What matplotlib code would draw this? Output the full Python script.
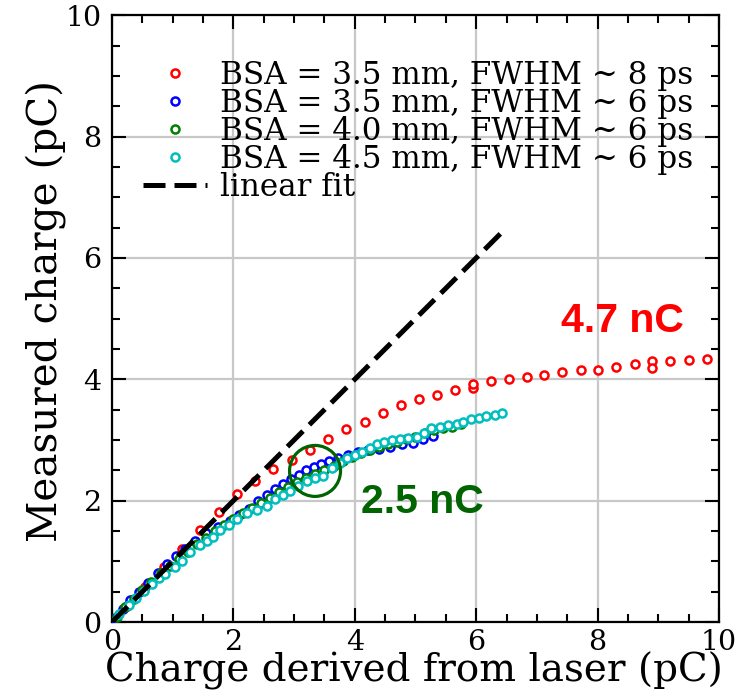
import matplotlib
matplotlib.use("Agg")
import matplotlib.pyplot as plt
from matplotlib.patches import Circle

plt.rcParams["font.family"] = ["DejaVu Serif"]

# Laser-derived charge (pC) vs measured charge (pC) for each setting
x_bsa35_8ps = [0.25, 0.55, 0.85, 1.15, 1.45, 1.76, 2.06, 2.36, 2.66, 2.96, 3.26, 3.56,
               3.86, 4.16, 4.46, 4.76, 5.06, 5.35, 5.65, 5.94, 5.94, 6.24, 6.54, 6.83,
               7.12, 7.42, 7.72, 8.01, 8.31, 8.61, 8.90, 8.90, 9.20, 9.50, 9.80]
y_bsa35_8ps = [0.27, 0.58, 0.90, 1.21, 1.51, 1.82, 2.11, 2.33, 2.52, 2.67, 2.84, 3.02,
               3.18, 3.30, 3.45, 3.58, 3.67, 3.74, 3.82, 3.86, 3.92, 3.97, 4.00, 4.04,
               4.07, 4.12, 4.16, 4.16, 4.21, 4.26, 4.30, 4.18, 4.30, 4.32, 4.33]

x_bsa35_6ps = [0.05, 0.18, 0.30, 0.45, 0.60, 0.75, 0.90, 1.05, 1.20, 1.37, 1.55, 1.75,
               1.95, 2.10, 2.25, 2.41, 2.55, 2.68, 2.82, 2.95, 3.08, 3.20, 3.32, 3.45,
               3.58, 3.72, 3.88, 4.05, 4.22, 4.40, 4.58, 4.77, 4.96, 5.12, 5.29]
y_bsa35_6ps = [0.06, 0.22, 0.36, 0.50, 0.64, 0.80, 0.95, 1.08, 1.21, 1.34, 1.47, 1.57,
               1.67, 1.77, 1.87, 1.99, 2.09, 2.19, 2.27, 2.35, 2.43, 2.50, 2.55, 2.60,
               2.65, 2.70, 2.75, 2.80, 2.84, 2.85, 2.89, 2.93, 2.95, 3.01, 3.07]

x_bsa40_6ps = [0.08, 0.22, 0.36, 0.50, 0.65, 0.80, 0.95, 1.10, 1.25, 1.40, 1.55, 1.70,
               1.85, 2.00, 2.15, 2.30, 2.45, 2.60, 2.75, 2.90, 3.05, 3.20, 3.35, 3.50,
               3.65, 3.80, 3.95, 4.10, 4.25, 4.40, 4.55, 4.70, 4.85, 5.00, 5.15, 5.30,
               5.45, 5.60, 5.75]
y_bsa40_6ps = [0.08, 0.24, 0.38, 0.52, 0.66, 0.80, 0.92, 1.04, 1.16, 1.28, 1.39, 1.50,
               1.60, 1.70, 1.79, 1.88, 1.96, 2.05, 2.14, 2.23, 2.31, 2.38, 2.44, 2.51,
               2.57, 2.65, 2.72, 2.78, 2.84, 2.88, 2.93, 2.97, 3.01, 3.05, 3.12, 3.16,
               3.19, 3.22, 3.27]

x_bsa45_6ps = [0.12, 0.28, 0.40, 0.52, 0.66, 0.78, 0.88, 1.04, 1.16, 1.29, 1.45, 1.56,
               1.67, 1.78, 1.92, 2.06, 2.22, 2.39, 2.55, 2.69, 2.81, 2.93, 3.07, 3.21,
               3.35, 3.48, 3.62, 3.75, 3.87, 4.00, 4.12, 4.25, 4.36, 4.48, 4.61, 4.74,
               4.88, 5.02, 5.14, 5.26, 5.40, 5.54, 5.68, 5.78, 5.92, 6.05, 6.17, 6.31,
               6.43]
y_bsa45_6ps = [0.13, 0.28, 0.40, 0.51, 0.62, 0.72, 0.79, 0.90, 1.01, 1.16, 1.27, 1.34,
               1.40, 1.52, 1.60, 1.69, 1.80, 1.84, 1.91, 2.02, 2.09, 2.16, 2.24, 2.32,
               2.38, 2.41, 2.54, 2.62, 2.70, 2.76, 2.81, 2.87, 2.93, 2.96, 3.00, 3.01,
               3.03, 3.05, 3.12, 3.19, 3.22, 3.25, 3.27, 3.30, 3.34, 3.37, 3.39, 3.41,
               3.44]

# Linear fit: slope 1 through the origin
fit_x = [0.0, 6.5]
fit_slope = 1.0

labels = ["BSA = 3.5 mm, FWHM ~ 8 ps",
          "BSA = 3.5 mm, FWHM ~ 6 ps",
          "BSA = 4.0 mm, FWHM ~ 6 ps",
          "BSA = 4.5 mm, FWHM ~ 6 ps"]
colors = ["#ff0000", "#0000ff", "#008000", "#00bfbf"]

fig = plt.figure(figsize=(7.52, 6.97), dpi=100)
ax = fig.add_axes([0.149, 0.1076, 0.807, 0.8705])

series = [(x_bsa35_8ps, y_bsa35_8ps), (x_bsa35_6ps, y_bsa35_6ps),
          (x_bsa40_6ps, y_bsa40_6ps), (x_bsa45_6ps, y_bsa45_6ps)]
for (xs, ys), lab, col in zip(series, labels, colors):
    ax.plot(xs, ys, linestyle="none", marker="o", markersize=5.8,
            markerfacecolor="white", markeredgecolor=col, markeredgewidth=1.8,
            label=lab, zorder=3)

ax.plot(fit_x, [fit_slope * v for v in fit_x], color="black", lw=3.6,
        dashes=(4.4, 1.8), label="linear fit", zorder=4)

ax.add_patch(Circle((3.345, 2.49), 0.42, fill=False, edgecolor="#006400",
                    lw=2.3, zorder=5))
ax.text(7.40, 4.78, "4.7 nC", color="#ff0000", fontsize=29.5, fontweight="bold",
        family="Liberation Sans", ha="left", va="baseline")
ax.text(4.11, 1.80, "2.5 nC", color="#006400", fontsize=29.5, fontweight="bold",
        family="Liberation Sans", ha="left", va="baseline")

ax.set_xlim(0, 10)
ax.set_ylim(0, 10)
ax.set_xticks([0, 2, 4, 6, 8, 10])
ax.set_yticks([0, 2, 4, 6, 8, 10])
ax.set_xticks([v * 0.5 for v in range(21)], minor=True)
ax.set_yticks([v * 0.5 for v in range(21)], minor=True)
ax.grid(True, which="major", color="#c8c8c8", lw=1.6, zorder=0)
ax.set_axisbelow(True)
ax.tick_params(which="both", direction="in", top=True, right=True,
               width=1.5, labelsize=20.5, pad=7.5)
ax.tick_params(axis="x", which="both", pad=5)
ax.tick_params(which="major", length=10)
ax.tick_params(which="minor", length=6)
for sp in ax.spines.values():
    sp.set_linewidth(1.6)

ax.set_xlabel("Charge derived from laser (pC)", fontsize=28)
ax.set_ylabel("Measured charge (pC)", fontsize=29.2)
ax.xaxis.set_label_coords(0.497, -0.049)
ax.yaxis.set_label_coords(-0.076, 0.512)

leg = ax.legend(loc="upper left", frameon=False, fontsize=22.3,
                labelspacing=-0.1, handlelength=2.06, handletextpad=0.42,
                borderpad=0, borderaxespad=0, bbox_to_anchor=(0.051, 0.926))

fig.savefig("out.png", dpi=100)
